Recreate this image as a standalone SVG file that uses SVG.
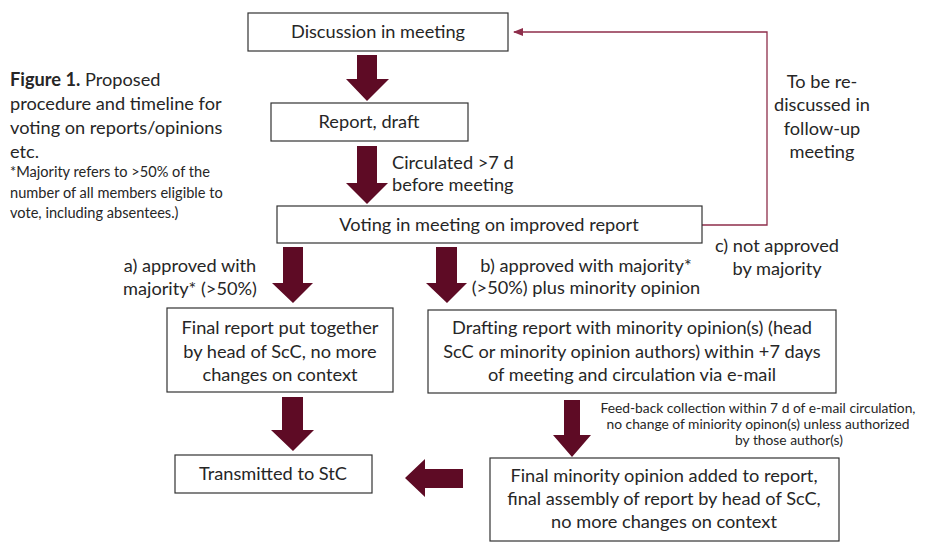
<svg xmlns="http://www.w3.org/2000/svg" width="926" height="543" viewBox="0 0 926 543">
<defs>
<style>
text{font-family:Lato,"Open Sans","Liberation Sans",sans-serif;fill:#262626;}
.t{font-size:18.2px;text-anchor:middle;}
.l{font-size:18.2px;}
.s{font-size:14.6px;}
.fb{font-size:13.8px;text-anchor:middle;}
.box{fill:#fff;stroke:#333;stroke-width:1.2;}
.ba{fill:#5E0B25;}
.ln{fill:none;stroke:#8E2E4B;stroke-width:1.3;}
</style>
<marker id="ah" markerWidth="10" markerHeight="8" refX="9" refY="4" orient="auto" markerUnits="userSpaceOnUse">
<path d="M0,0 L10,4 L0,8 Z" fill="#8E2E4B"/>
</marker>
</defs>
<rect width="926" height="543" fill="#fff"/>

<g id="caption">
<text class="l" x="10" y="86"><tspan font-weight="bold">Figure 1.</tspan> Proposed</text>
<text class="l" x="10" y="110">procedure and timeline for</text>
<text class="l" x="10" y="134">voting on reports/opinions</text>
<text class="l" x="10" y="158">etc.</text>
<text class="s" x="10" y="177">*Majority refers to &gt;50% of the</text>
<text class="s" x="10" y="198">number of all members eligible to</text>
<text class="s" x="10" y="218">vote, including absentees.)</text>
</g>

<g id="connectors">
<path class="ba" d="M357,55 H377 V79 H389 L367,101 L346,79 H357 Z"/>
<path class="ba" d="M357,146 H377 V183 H388 L367,204 L346,183 H357 Z"/>
<path class="ba" d="M283,247 H303 V283 H313 L293,303 L272,283 H283 Z"/>
<path class="ba" d="M436,247 H457 V283 H467 L447,303 L426,283 H436 Z"/>
<path class="ba" d="M282,397 H303 V430 H314 L293,451 L271,430 H282 Z"/>
<path class="ba" d="M564,400 H580 V435 H591 L572,457 L553,435 H564 Z"/>
<path class="ba" d="M463,469 V488 H425 V497 L405,478 L425,459 V469 Z"/>
<path class="ln" d="M702,225 H767 V32 H514" marker-end="url(#ah)"/>
<text class="t" x="822" y="88">To be re-</text>
<text class="t" x="822" y="111">discussed in</text>
<text class="t" x="822" y="135">follow-up</text>
<text class="t" x="822" y="158">meeting</text>
<text class="t" x="777" y="252">c) not approved</text>
<text class="t" x="777" y="275">by majority</text>
<text class="l" x="392" y="169">Circulated &gt;7 d</text>
<text class="l" x="392" y="191">before meeting</text>
<text class="t" x="190" y="272">a) approved with</text>
<text class="t" x="190" y="295">majority* (&gt;50%)</text>
<text class="t" x="586" y="272">b) approved with majority*</text>
<text class="t" x="586" y="294">(&gt;50%) plus minority opinion</text>
<text class="fb" x="758" y="413">Feed-back collection within 7 d of e-mail circulation,</text>
<text class="fb" x="758" y="429">no change of miniority opinon(s) unless authorized</text>
<text class="fb" x="789" y="445">by those author(s)</text>
</g>

<g id="discussion">
<rect class="box" x="248" y="13" width="260" height="38"/>
<text class="t" x="378" y="38">Discussion in meeting</text>
</g>
<g id="draft">
<rect class="box" x="271" y="103" width="197" height="38"/>
<text class="t" x="369" y="128">Report, draft</text>
</g>
<g id="voting">
<rect class="box" x="277" y="206" width="425" height="37"/>
<text class="t" x="489" y="231">Voting in meeting on improved report</text>
</g>
<g id="final-report">
<rect class="box" x="167" y="308" width="226" height="84"/>
<text class="t" x="280" y="334">Final report put together</text>
<text class="t" x="280" y="358">by head of ScC, no more</text>
<text class="t" x="280" y="381">changes on context</text>
</g>
<g id="drafting">
<rect class="box" x="428" y="310" width="408" height="83"/>
<text class="t" x="632" y="334">Drafting report with minority opinion(s) (head</text>
<text class="t" x="632" y="358">ScC or minority opinion authors) within +7 days</text>
<text class="t" x="632" y="381">of meeting and circulation via e-mail</text>
</g>
<g id="transmitted">
<rect class="box" x="175" y="455" width="197" height="38"/>
<text class="t" x="273" y="480">Transmitted to StC</text>
</g>
<g id="final-minority">
<rect class="box" x="490" y="458" width="349" height="83"/>
<text class="t" x="664" y="482">Final minority opinion added to report,</text>
<text class="t" x="664" y="505">final assembly of report by head of ScC,</text>
<text class="t" x="664" y="528">no more changes on context</text>
</g>
</svg>
